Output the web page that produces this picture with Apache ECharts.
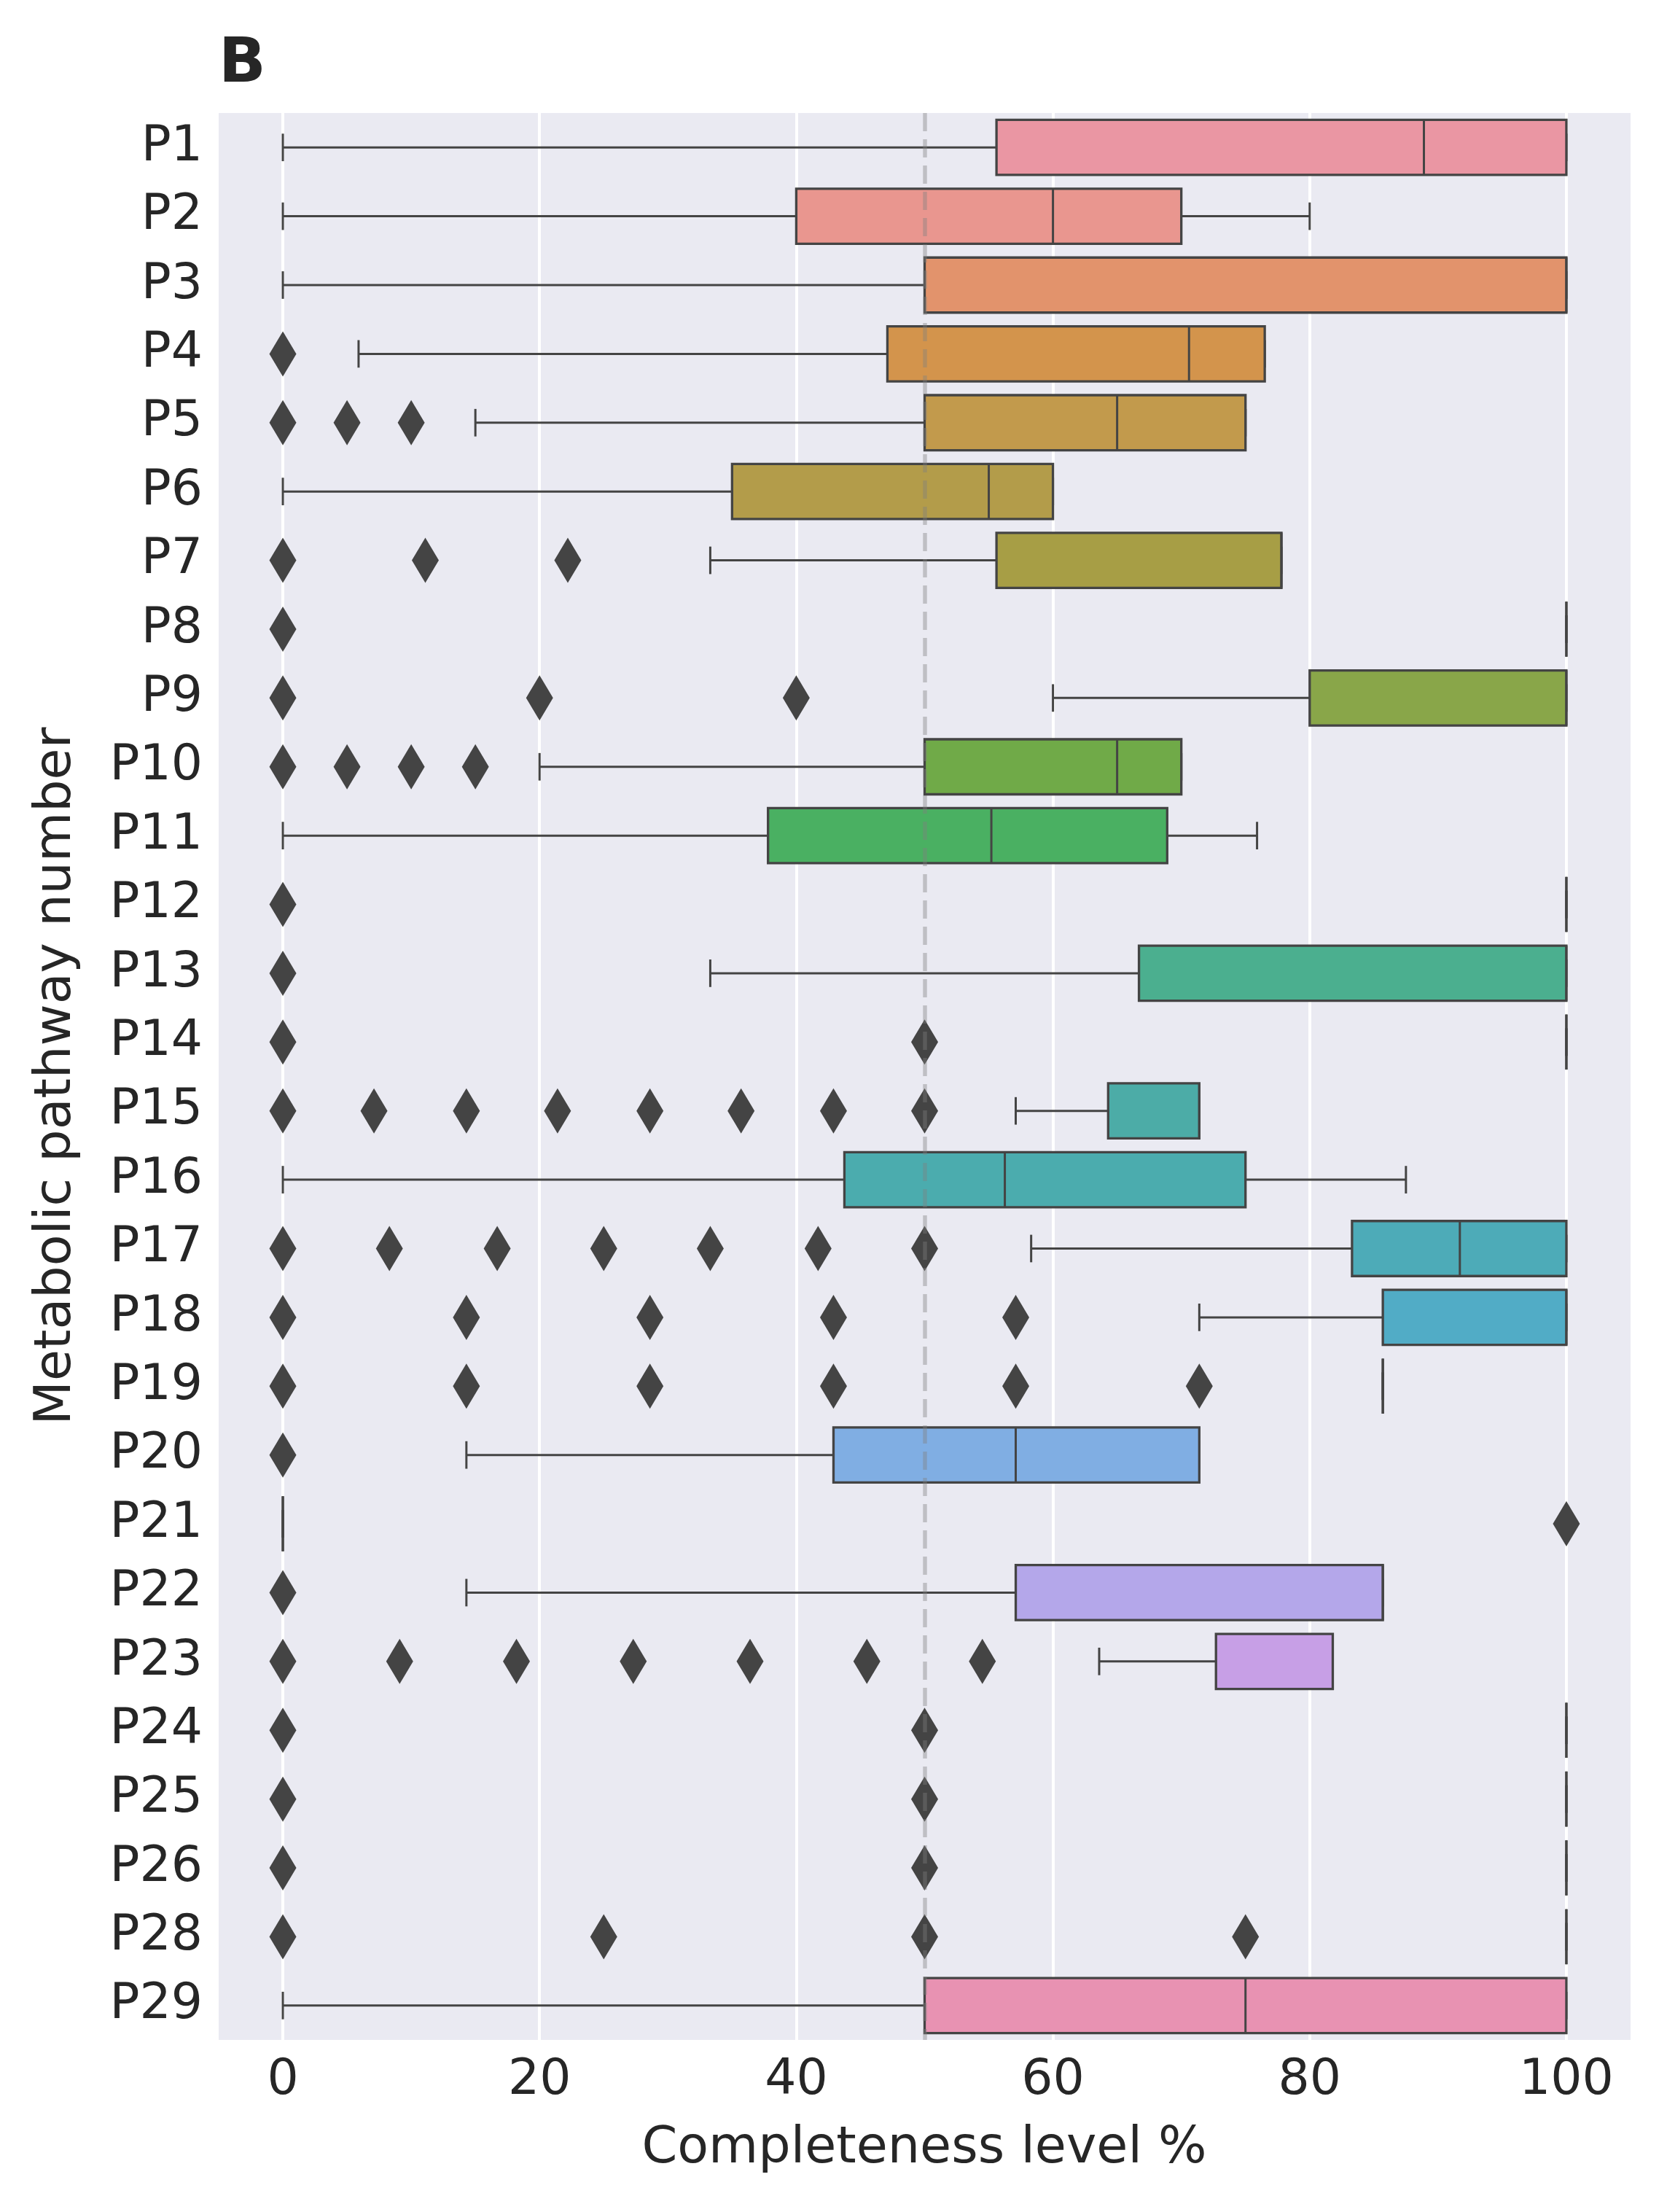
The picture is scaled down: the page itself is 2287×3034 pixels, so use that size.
<!DOCTYPE html>
<html>
<head>
<meta charset="utf-8">
<script src="https://cdn.jsdelivr.net/npm/echarts@6/dist/echarts.min.js"></script>
<style>html,body{margin:0;padding:0;background:#ffffff}#c{width:2287px;height:3034px}</style>
</head>
<body>
<div id="c"></div>
<script>
// ---------------- data ----------------
const categories = ['P1','P2','P3','P4','P5','P6','P7','P8','P9','P10','P11','P12','P13','P14','P15','P16','P17','P18','P19','P20','P21','P22','P23','P24','P25','P26','P28','P29'];
const whiskerLow  = [0, 0, 0, 5.9, 15, 0, 33.3, 100, 60, 20, 0, 100, 33.3, 100, 57.1, 0, 58.3, 71.4, 85.7, 14.3, 0, 14.3, 63.6, 100, 100, 100, 100, 0];
const q1          = [55.6, 40, 50, 47.1, 50, 35, 55.6, 100, 80, 50, 37.8, 100, 66.7, 100, 64.3, 43.75, 83.3, 85.7, 85.7, 42.9, 0, 57.1, 72.7, 100, 100, 100, 100, 50];
const median      = [88.9, 60, 100, 70.6, 65, 55, 77.8, 100, 100, 65, 55.2, 100, 100, 100, 71.4, 56.25, 91.7, 100, 85.7, 57.1, 0, 85.7, 81.8, 100, 100, 100, 100, 75];
const q3          = [100, 70, 100, 76.5, 75, 60, 77.8, 100, 100, 70, 68.9, 100, 100, 100, 71.4, 75, 100, 100, 85.7, 71.4, 0, 85.7, 81.8, 100, 100, 100, 100, 100];
const whiskerHigh = [100, 80, 100, 76.5, 75, 60, 77.8, 100, 100, 70, 75.9, 100, 100, 100, 71.4, 87.5, 100, 100, 85.7, 71.4, 0, 85.7, 81.8, 100, 100, 100, 100, 100];
const outliers = [
  [], [], [], [0], [0, 5, 10], [], [0, 11.1, 22.2], [0], [0, 20, 40], [0, 5, 10, 15],
  [], [0], [0], [0, 50], [0, 7.1, 14.3, 21.4, 28.6, 35.7, 42.9, 50], [], [0, 8.3, 16.7, 25, 33.3, 41.7, 50],
  [0, 14.3, 28.6, 42.9, 57.1], [0, 14.3, 28.6, 42.9, 57.1, 71.4], [0], [100], [0],
  [0, 9.1, 18.2, 27.3, 36.4, 45.5, 54.5], [0, 50], [0, 50], [0, 50], [0, 25, 50, 75], []
];
const xTicks = [0, 20, 40, 60, 80, 100];
const thresholdValue = 50;
const boxColors = ['#ea96a3','#e9968f','#e2936c','#d3944c','#c29a4c','#b39c4a','#a79e45','#98a246','#89a649','#70aa48',
  '#4ab062','#4aaf7c','#4baf8f','#4bad9c','#4caca7','#4bacae','#4dabb8','#51acc6','#5eadd6','#80aee3',
  '#9aabe8','#b4a7ea','#c79fe6','#d69be0','#e098d5','#e696c9','#e995bd','#e892b2'];

// ---------------- build ----------------
const LINE = '#444444';
const TEXT = '#262626';
const FONT = 'DejaVu Sans';

const boxData = categories.map((c, i) => [i, whiskerLow[i], q1[i], median[i], q3[i], whiskerHigh[i]]);
const flierData = [];
outliers.forEach((arr, i) => arr.forEach(v => flierData.push([v, i])));

function renderBox(params, api) {
  const ci = api.value(0);
  const lo = api.value(1), a = api.value(2), m = api.value(3), b = api.value(4), hi = api.value(5);
  const band = api.size([0, 1])[1];
  const bw = band * 0.8;
  const pLo = api.coord([lo, ci]);
  const pA = api.coord([a, ci]);
  const pM = api.coord([m, ci]);
  const pB = api.coord([b, ci]);
  const pHi = api.coord([hi, ci]);
  const y = pA[1];
  const ls = {stroke: LINE, lineWidth: 3, fill: null};
  return {
    type: 'group',
    children: [
      {type: 'line', shape: {x1: pLo[0], y1: y, x2: pA[0], y2: y}, style: ls},
      {type: 'line', shape: {x1: pB[0], y1: y, x2: pHi[0], y2: y}, style: ls},
      {type: 'line', shape: {x1: pLo[0], y1: y - bw / 4, x2: pLo[0], y2: y + bw / 4}, style: ls},
      {type: 'line', shape: {x1: pHi[0], y1: y - bw / 4, x2: pHi[0], y2: y + bw / 4}, style: ls},
      {type: 'rect', shape: {x: pA[0], y: y - bw / 2, width: pB[0] - pA[0], height: bw},
        style: {fill: boxColors[params.dataIndex], stroke: LINE, lineWidth: 3.3}},
      {type: 'line', shape: {x1: pM[0], y1: y - bw / 2, x2: pM[0], y2: y + bw / 2}, style: ls}
    ]
  };
}

const chart = echarts.init(document.getElementById('c'), null, {renderer: 'canvas'});
chart.setOption({
  animation: false,
  backgroundColor: '#ffffff',
  grid: {left: 300, right: 50, top: 155, bottom: 236, show: true, backgroundColor: '#eaeaf2', borderWidth: 0,
    containLabel: false, outerBoundsMode: 'none'},
  xAxis: {
    type: 'value', min: -5, max: 105,
    axisLine: {show: false}, axisTick: {show: false}, splitLine: {show: false},
    axisLabel: {
      show: true, color: TEXT, fontSize: 68, fontFamily: FONT, margin: 22,
      showMinLabel: false, showMaxLabel: false,
      formatter: v => (xTicks.indexOf(v) >= 0 ? String(v) : '')
    }
  },
  yAxis: {
    type: 'category', data: categories, inverse: true, boundaryGap: true,
    axisLine: {show: false}, axisTick: {show: false}, splitLine: {show: false},
    axisLabel: {color: TEXT, fontSize: 68, fontFamily: FONT, margin: 22, interval: 0, padding: [8, 0, 0, 0]}
  },
  graphic: [
    {type: 'text', left: 300, top: 47, style: {text: 'B', font: 'bold 85px "DejaVu Sans"', fill: TEXT}},
    {type: 'text', x: 1268, y: 2948, style: {text: 'Completeness level %', font: '70px "DejaVu Sans"', fill: TEXT, align: 'center', verticalAlign: 'middle'}},
    {type: 'text', x: 78, y: 1476, rotation: Math.PI / 2, style: {text: 'Metabolic pathway number', font: '70px "DejaVu Sans"', fill: TEXT, align: 'center', verticalAlign: 'middle'}}
  ],
  series: [
    {
      type: 'scatter', name: 'grid', data: [], silent: true, z: 0,
      markLine: {silent: true, symbol: 'none', z: 0, label: {show: false},
        lineStyle: {color: '#ffffff', width: 4, type: 'solid'},
        data: xTicks.map(v => ({xAxis: v}))}
    },
    {
      type: 'custom', name: 'boxes', renderItem: renderBox, data: boxData, z: 2,
      encode: {y: 0, x: [1, 2, 3, 4, 5]}, silent: true
    },
    {
      type: 'scatter', name: 'outliers', data: flierData, z: 3, silent: true,
      symbol: 'diamond', symbolSize: [37, 62],
      itemStyle: {color: LINE, opacity: 1}
    },
    {
      type: 'scatter', name: 'threshold', data: [], silent: true, z: 10,
      markLine: {silent: true, symbol: 'none', z: 10, label: {show: false},
        lineStyle: {color: 'rgba(128,128,128,0.4)', width: 5.5, type: [25, 11]},
        data: [{xAxis: thresholdValue}]}
    }
  ]
});
</script>
</body>
</html>
